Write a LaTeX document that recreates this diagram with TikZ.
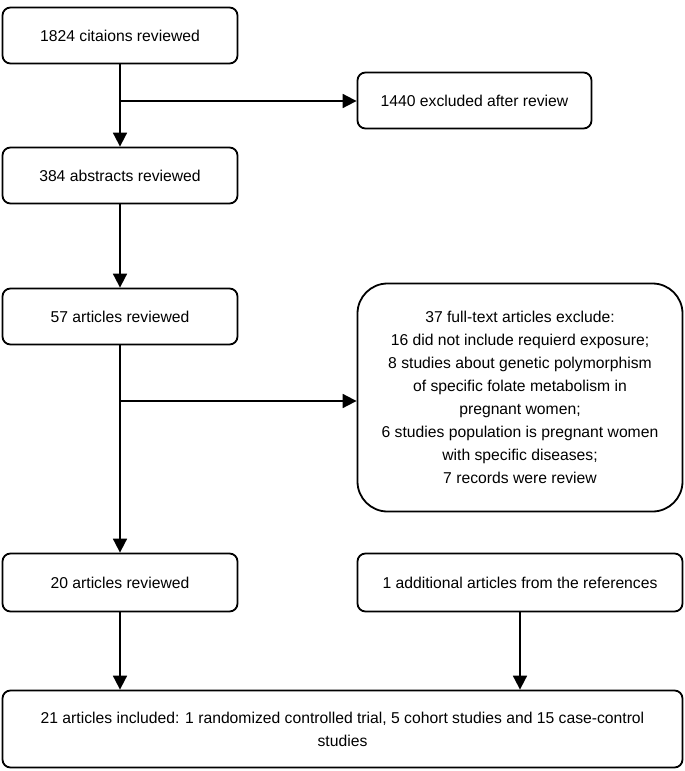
\documentclass[tikz,border=0pt]{standalone}
\usepackage{fontspec}
\setmainfont{Liberation Sans}
\usetikzlibrary{arrows.meta,calc}
\begin{document}
\begin{tikzpicture}[x=1pt,y=-1pt,
  box/.style={draw=black, line width=1.8pt, rounded corners=8pt, align=center,
    inner sep=0pt, font=\fontsize{15.7}{23}\selectfont},
  bigbox/.style={box, rounded corners=30pt},
  arr/.style={line width=1.8pt, -{Triangle[length=14pt,width=14pt]}},
  ln/.style={line width=1.8pt}]
\useasboundingbox (0,0) rectangle (685,771);
\node[box, minimum width=235, minimum height=56] (c1) at (120,35.5) {1824 citaions reviewed};
\node[box, minimum width=234, minimum height=56] (e1) at (474.5,100.5) {1440 excluded after review};
\node[box, minimum width=235, minimum height=56] (c2) at (120,175.5) {384 abstracts reviewed};
\node[box, minimum width=235, minimum height=56] (c3) at (120,316.5) {57 articles reviewed};
\node[bigbox, minimum width=325, minimum height=228] (e2) at (520,397.5) {37 full-text articles exclude:\\16 did not include requierd exposure;\\8 studies about genetic polymorphism\\of specific folate metabolism in\\pregnant women;\\6 studies population is pregnant women\\with specific diseases;\\7 records were review};
\node[box, minimum width=235, minimum height=58] (c4) at (120,582.5) {20 articles reviewed};
\node[box, minimum width=325, minimum height=58] (a1) at (520,582.5) {1 additional articles from the references};
\node[box, minimum width=680, minimum height=77] (f) at (342.5,729) {21 articles included: 1 randomized controlled trial, 5 cohort studies and 15 case-control\\studies};
\coordinate (j1) at (120,101);
\coordinate (j2) at (120,401);
\draw[arr] (c1) -- (c2);
\draw[arr] (j1) -- (j1 -| e1.west);
\draw[arr] (c2) -- (c3);
\draw[arr] (c3) -- (c4);
\draw[arr] (j2) -- (j2 -| e2.west);
\draw[arr] (c4.south) -- (c4.south |- f.north);
\draw[arr] (a1.south) -- (a1.south |- f.north);
\end{tikzpicture}
\end{document}
